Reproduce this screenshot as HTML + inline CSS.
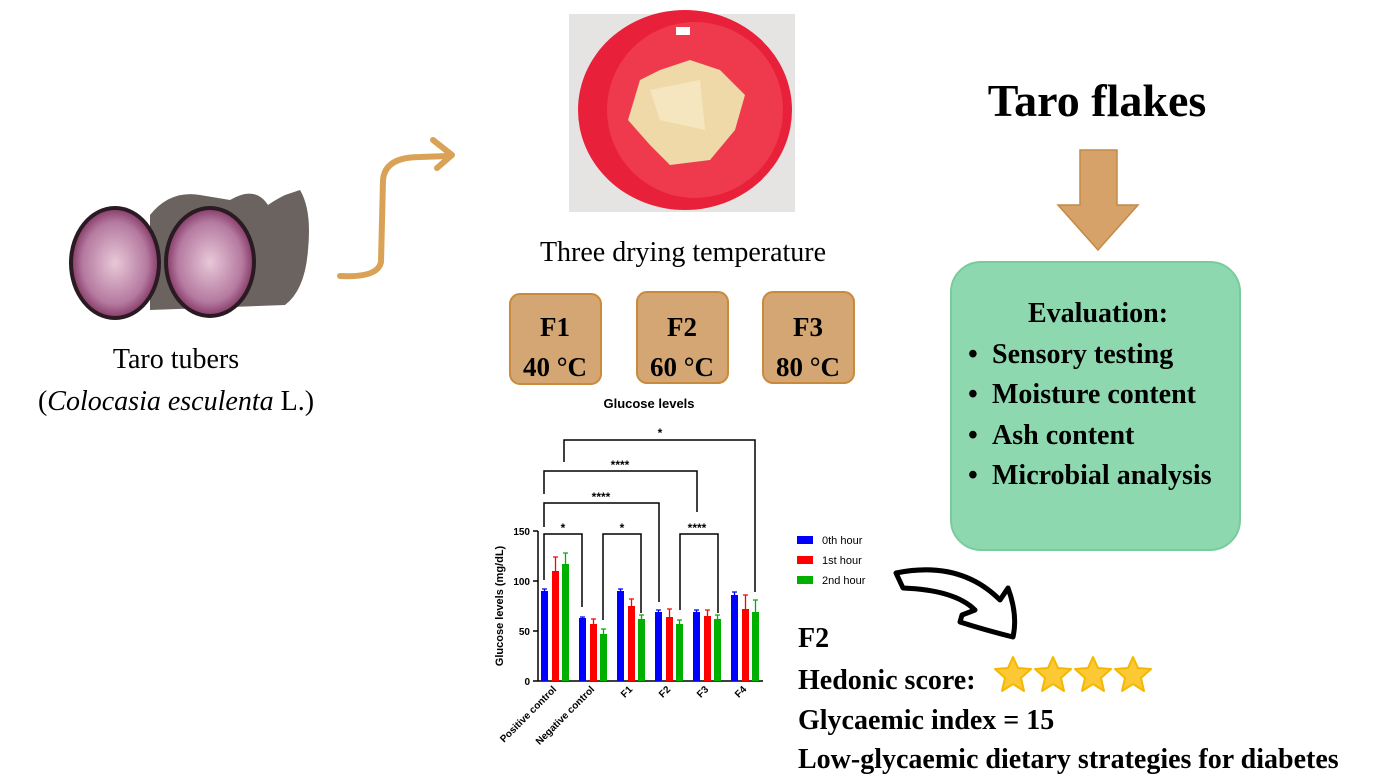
<!DOCTYPE html>
<html><head><meta charset="utf-8"><style>
html,body{margin:0;padding:0;background:#fff;}
svg{display:block}
.s{font-family:"Liberation Serif",serif}
.a{font-family:"Liberation Sans",sans-serif}
</style></head><body>
<svg width="1380" height="776" viewBox="0 0 1380 776" xmlns="http://www.w3.org/2000/svg">
<defs>
<radialGradient id="taro" cx="50%" cy="50%" r="55%"><stop offset="0" stop-color="#e8c8d8"/><stop offset="0.7" stop-color="#b57aa0"/><stop offset="1" stop-color="#7a2c5a"/></radialGradient>
</defs>
<!-- Taro tubers -->
<path d="M150,215 Q170,190 200,195 L230,200 Q255,185 268,205 Q275,200 285,195 L300,190 Q312,210 308,250 Q305,290 285,305 L150,310 Z" fill="#6b6360"/>
<ellipse cx="115" cy="263" rx="46" ry="57" fill="#2a1a22"/>
<ellipse cx="115" cy="263" rx="42" ry="53" fill="url(#taro)"/>
<ellipse cx="210" cy="262" rx="46" ry="56" fill="#2a1a22"/>
<ellipse cx="210" cy="262" rx="42" ry="52" fill="url(#taro)"/>
<text x="176" y="368" class="s" font-size="28" text-anchor="middle">Taro tubers</text>
<text x="176" y="410" class="s" font-size="28" text-anchor="middle">(<tspan font-style="italic">Colocasia esculenta</tspan> L.)</text>
<!-- tan curved arrow -->
<path d="M340,276 Q378,278 381,262 L383,180 Q385,157 420,157 L448,156" fill="none" stroke="#d9a257" stroke-width="6" stroke-linecap="round"/>
<path d="M433,140 L452,155 L437,168" fill="none" stroke="#d9a257" stroke-width="6" stroke-linecap="round" stroke-linejoin="round"/>
<!-- photo -->
<rect x="569" y="14" width="226" height="198" fill="#e6e4e3"/>
<ellipse cx="685" cy="110" rx="107" ry="100" fill="#e8203a"/>
<ellipse cx="695" cy="110" rx="88" ry="88" fill="#ee3a4c"/>
<path d="M628,120 L640,80 L660,70 L690,60 L720,70 L745,95 L735,130 L710,160 L670,165 L650,145 Z" fill="#efd9a8"/>
<path d="M650,90 L700,80 L705,130 L660,120 Z" fill="#f6e6c0"/>
<rect x="676" y="27" width="14" height="8" fill="#fff"/>
<text x="683" y="261" class="s" font-size="28" text-anchor="middle">Three drying temperature</text>
<!-- F boxes -->
<g class="s" font-weight="bold" font-size="27" text-anchor="middle">
<rect x="510" y="294" width="91" height="90" rx="10" fill="#d4a673" stroke="#c98a3c" stroke-width="2"/>
<text x="555" y="336">F1</text><text x="555" y="376">40 °C</text>
<rect x="637" y="292" width="91" height="91" rx="10" fill="#d4a673" stroke="#c98a3c" stroke-width="2"/>
<text x="682" y="336">F2</text><text x="682" y="376">60 °C</text>
<rect x="763" y="292" width="91" height="91" rx="10" fill="#d4a673" stroke="#c98a3c" stroke-width="2"/>
<text x="808" y="336">F3</text><text x="808" y="376">80 °C</text>
</g>
<!-- chart -->
<text x="649" y="408" class="a" font-size="13" font-weight="bold" text-anchor="middle">Glucose levels</text>
<g stroke="#000" stroke-width="1.5" fill="none">
<line x1="538" y1="531" x2="538" y2="681"/>
<line x1="538" y1="681" x2="763" y2="681"/>
<line x1="533" y1="531" x2="538" y2="531"/><line x1="533" y1="581" x2="538" y2="581"/><line x1="533" y1="631" x2="538" y2="631"/><line x1="533" y1="681" x2="538" y2="681"/>
<polyline points="544,580 544,534 582,534 582,607"/>
<polyline points="603,620 603,534 641,534 641,613"/>
<polyline points="680,610 680,534 718,534 718,613"/>
<polyline points="544,527 544,503 659,503 659,602"/>
<polyline points="544,494 544,471 697,471 697,512"/>
<polyline points="564,462 564,440 755,440 755,592"/>
</g>
<g class="a" font-size="12" font-weight="bold" text-anchor="middle">
<text x="563" y="532">*</text><text x="622" y="532">*</text><text x="697" y="532">****</text>
<text x="601" y="501">****</text><text x="620" y="469">****</text><text x="660" y="437">*</text>
</g>
<g class="a" font-size="10" font-weight="bold" text-anchor="end">
<text x="530" y="535">150</text><text x="530" y="585">100</text><text x="530" y="635">50</text><text x="530" y="685">0</text>
</g>
<text transform="translate(503,606) rotate(-90)" class="a" font-size="11" font-weight="bold" text-anchor="middle">Glucose levels (mg/dL)</text>
<g class="a" font-size="10" font-weight="bold" text-anchor="end">
<text transform="translate(557,690) rotate(-45)">Positive control</text>
<text transform="translate(595,690) rotate(-45)">Negative control</text>
<text transform="translate(633,690) rotate(-45)">F1</text>
<text transform="translate(671,690) rotate(-45)">F2</text>
<text transform="translate(709,690) rotate(-45)">F3</text>
<text transform="translate(747,690) rotate(-45)">F4</text>
</g>
<g class="a" font-size="11">
<rect x="797" y="536" width="16" height="8" fill="#0000ff"/><text x="822" y="544">0th hour</text>
<rect x="797" y="556" width="16" height="8" fill="#ff0000"/><text x="822" y="564">1st hour</text>
<rect x="797" y="576" width="16" height="8" fill="#00b000"/><text x="822" y="584">2nd hour</text>
</g>
<!-- Taro flakes -->
<text x="1097" y="116" class="s" font-size="46" font-weight="bold" text-anchor="middle">Taro flakes</text>
<path d="M1080,150 L1117,150 L1117,205 L1138,205 L1098,250 L1058,205 L1080,205 Z" fill="#d6a26a" stroke="#c48a48" stroke-width="1.5"/>
<rect x="951" y="262" width="289" height="288" rx="30" fill="#8ed8b0" stroke="#78cc9c" stroke-width="2"/>
<g class="s" font-size="28" font-weight="bold">
<text x="1098" y="322" text-anchor="middle">Evaluation:</text>
<text x="968" y="363">•</text><text x="992" y="363">Sensory testing</text>
<text x="968" y="403">•</text><text x="992" y="403">Moisture content</text>
<text x="968" y="444">•</text><text x="992" y="444">Ash content</text>
<text x="968" y="484">•</text><text x="992" y="484">Microbial analysis</text>
</g>
<!-- black arrow -->
<path d="M896,573 Q960,560 1000,600 L1008,588 Q1018,615 1013,637 Q985,630 960,622 L962,615 L975,610 Q955,590 903,588 Z" fill="#fff" stroke="#000" stroke-width="5" stroke-linejoin="round"/>
<!-- bottom text -->
<g class="s" font-size="28" font-weight="bold">
<text x="798" y="647">F2</text>
<text x="798" y="689">Hedonic score:</text>
<text x="798" y="729">Glycaemic index = 15</text>
<text x="798" y="768">Low-glycaemic dietary strategies for diabetes</text>
</g>
<g fill="#fcc934" stroke="#f5b800" stroke-width="2" stroke-linejoin="round">
<polygon id="st" points="1013,657 1018,668 1031,669 1021,678 1024,691 1013,684 1002,691 1005,678 995,669 1008,668"/>
<use href="#st" x="40"/><use href="#st" x="80"/><use href="#st" x="120"/>
</g>
<g>
<g fill="#0000ff"><rect x="541" y="591" width="7" height="90"/><rect x="579" y="618" width="7" height="63"/><rect x="617" y="591" width="7" height="90"/><rect x="655" y="612" width="7" height="69"/><rect x="693" y="612" width="7" height="69"/><rect x="731" y="595" width="7" height="86"/></g>
<g fill="#ff0000"><rect x="552" y="571" width="7" height="110"/><rect x="590" y="624" width="7" height="57"/><rect x="628" y="606" width="7" height="75"/><rect x="666" y="617" width="7" height="64"/><rect x="704" y="616" width="7" height="65"/><rect x="742" y="609" width="7" height="72"/></g>
<g fill="#00b000"><rect x="562" y="564" width="7" height="117"/><rect x="600" y="634" width="7" height="47"/><rect x="638" y="619" width="7" height="62"/><rect x="676" y="624" width="7" height="57"/><rect x="714" y="619" width="7" height="62"/><rect x="752" y="612" width="7" height="69"/></g>
<g stroke-width="1.3">
<path d="M544.5,591V589M542,589h5M582.5,618V617M580,617h5M620.5,591V589M618,589h5M658.5,612V610M656,610h5M696.5,612V610M694,610h5M734.5,595V592M732,592h5" stroke="#0000ff"/>
<path d="M555.5,571V557M553,557h5M593.5,624V619M591,619h5M631.5,606V599M629,599h5M669.5,617V609M667,609h5M707.5,616V610M705,610h5M745.5,609V595M743,595h5" stroke="#ff0000"/>
<path d="M565.5,564V553M563,553h5M603.5,634V629M601,629h5M641.5,619V615M639,615h5M679.5,624V620M677,620h5M717.5,619V615M715,615h5M755.5,612V600M753,600h5" stroke="#00b000"/>
</g>
</g>
</svg>
</body></html>
